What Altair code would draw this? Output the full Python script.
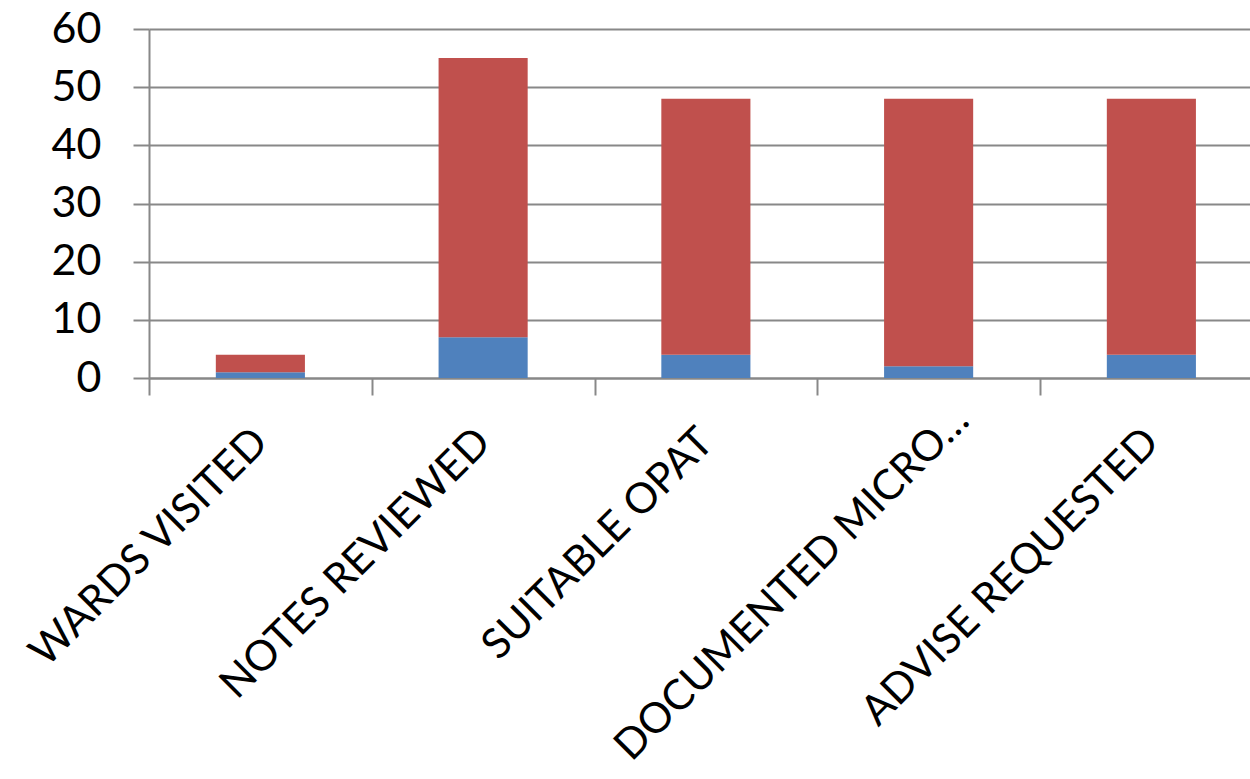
import altair as alt
import pandas as pd

categories = ["WARDS VISITED", "NOTES REVIEWED", "SUITABLE OPAT", "DOCUMENTED MICRO…", "ADVISE REQUESTED"]
blue_values = [1, 7, 4, 2, 4]
red_values = [3, 48, 44, 46, 44]
series_names = ["Series1", "Series2"]
series_colors = ["#4F81BD", "#C0504D"]
y_ticks = [0, 10, 20, 30, 40, 50, 60]

rows = []
for i, c in enumerate(categories):
    rows.append({"cat": c, "series": series_names[0], "value": blue_values[i], "order": 0})
    rows.append({"cat": c, "series": series_names[1], "value": red_values[i], "order": 1})
df = pd.DataFrame(rows)

FONT = "Lato"
STEP = 222.75
TRUNC_TEST = "datum.value == '" + categories[3] + "'"

chart = alt.Chart(df).mark_bar().encode(
    x=alt.X("cat:N", sort=categories,
            scale=alt.Scale(paddingInner=0.6, paddingOuter=0.3, range=[0, STEP * len(categories)]),
            axis=alt.Axis(title=None, labelAngle=-45, labelAlign="right", labelBaseline="middle",
                          tickOffset=-STEP / 2,
                          labelOffset={"condition": {"test": TRUNC_TEST, "value": STEP / 2 + 33},
                                       "value": STEP / 2},
                          labelPadding={"condition": {"test": TRUNC_TEST, "value": 18},
                                        "value": 40},
                          tickSize=17, tickWidth=2,
                          tickColor="#888888", domainColor="#888888", domainWidth=2,
                          labelFont=FONT, labelFontSize=42, labelColor="#000000",
                          labelLimit=1000, grid=False)),
    y=alt.Y("value:Q", stack="zero",
            scale=alt.Scale(domain=[0, 60], nice=False),
            axis=alt.Axis(title=None, values=y_ticks, tickSize=16, tickWidth=2, tickColor="#888888",
                          domainColor="#888888", domainWidth=2, gridColor="#888888", gridWidth=2,
                          labelPadding=32, labelFont=FONT, labelFontSize=43, labelColor="#000000")),
    color=alt.Color("series:N", scale=alt.Scale(domain=series_names, range=series_colors), legend=None),
    order=alt.Order("order:Q"),
).properties(
    width=1101, height=349,
    autosize=alt.AutoSizeParams(type="none"),
    padding={"left": 149, "top": 29, "right": 0, "bottom": 401},
).configure_view(stroke=None)

chart.save("out.html", embed_options={"renderer": "svg", "actions": False})
